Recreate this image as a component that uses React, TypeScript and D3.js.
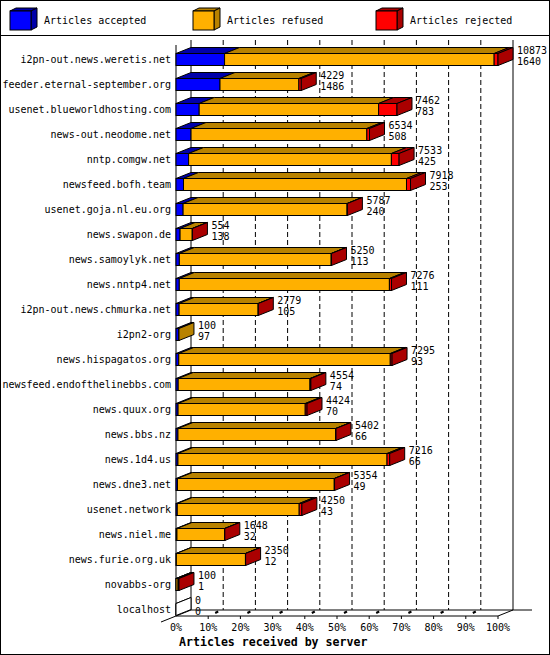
import React from 'react';
import * as d3 from 'd3';

const servers = [
  'i2pn-out.news.weretis.net',
  'feeder.eternal-september.org',
  'usenet.blueworldhosting.com',
  'news-out.neodome.net',
  'nntp.comgw.net',
  'newsfeed.bofh.team',
  'usenet.goja.nl.eu.org',
  'news.swapon.de',
  'news.samoylyk.net',
  'news.nntp4.net',
  'i2pn-out.news.chmurka.net',
  'i2pn2-org',
  'news.hispagatos.org',
  'newsfeed.endofthelinebbs.com',
  'news.quux.org',
  'news.bbs.nz',
  'news.1d4.us',
  'news.dne3.net',
  'usenet.network',
  'news.niel.me',
  'news.furie.org.uk',
  'novabbs-org',
  'localhost',
];

// totals shown as the upper label, accepted as the lower one
const totals = [10873, 4229, 7462, 6534, 7533, 7918, 5787, 554, 5250, 7276, 2779, 100, 7295, 4554, 4424, 5402, 7216, 5354, 4250, 1648, 2350, 100, 0];
const accepted = [1640, 1486, 783, 508, 425, 253, 240, 138, 113, 111, 105, 97, 93, 74, 70, 66, 66, 49, 43, 32, 12, 1, 0];
const refused = [9103, 2663, 6059, 5936, 6848, 7530, 5537, 411, 5127, 7095, 2669, 3, 7142, 4450, 4294, 5326, 7060, 5295, 4117, 1611, 2333, 69, 0];
const rejected = [130, 80, 620, 90, 260, 135, 10, 5, 10, 70, 5, 0, 60, 30, 60, 10, 90, 10, 90, 5, 5, 30, 0];

const seriesNames = ['Articles accepted', 'Articles refused', 'Articles rejected'];
const tickPercents = [0, 10, 20, 30, 40, 50, 60, 70, 80, 90, 100];
const axisTitle = 'Articles received by server';

const fronts = ['#0000ff', '#ffb000', '#ff0000'];
const darks = ['#0000aa', '#b88200', '#aa0000'];

const W = 550;
const H = 655;
const DX = 15;
const DY = -6;
const FONT = '"DejaVu Sans Mono", monospace';

const poly = (pts: [number, number][]) => pts.map(p => p.join(',')).join(' ');

const App: React.FC = () => {
  const x = d3.scaleLinear().domain([0, d3.max(totals) as number]).range([176, 498]);
  const pct = d3.scaleLinear().domain([0, 100]).range([176, 498]);
  const y = d3.scaleBand<string>().domain(servers).range([47, 622]);
  const barH = 12;

  const series = [accepted, refused, rejected];
  const legendX = [10, 193, 376];

  return (
    <svg
      width={W}
      height={H}
      style={{ position: 'absolute', left: 0, top: 0, background: '#fff' }}
      fontFamily={FONT}
    >
      <rect x={0.5} y={0.5} width={W - 1} height={H - 1} fill="#fff" stroke="#000" />

      {/* legend */}
      <line x1={0} x2={W} y1={35.5} y2={35.5} stroke="#000" />
      {seriesNames.map((name, k) => {
        const lx = legendX[k];
        const x0 = lx, x1 = lx + 21, y0 = 11, y1 = 30;
        return (
          <g key={name} stroke="#000" strokeWidth={1}>
            <polygon points={poly([[x0, y0], [x1, y0], [x1 + 6, y0 - 3], [x0 + 6, y0 - 3]])} fill={darks[k]} />
            <polygon points={poly([[x1, y0], [x1 + 6, y0 - 3], [x1 + 6, y1 - 3], [x1, y1]])} fill={darks[k]} />
            <rect x={x0} y={y0} width={x1 - x0} height={y1 - y0} fill={fronts[k]} />
            <text x={lx + 34} y={20.5} fontSize={10} dominantBaseline="central" stroke="none" fill="#000">{name}</text>
          </g>
        );
      })}

      {/* back wall grid */}
      {tickPercents.slice(1, -1).map(t => (
        <line key={`g${t}`} x1={pct(t) + DX} x2={pct(t) + DX} y1={40} y2={610} stroke="#000" strokeDasharray="5,3" />
      ))}
      <line x1={pct(0) + DX} x2={pct(0) + DX} y1={40} y2={610} stroke="#000" />
      <line x1={pct(100) + DX} x2={pct(100) + DX} y1={40} y2={610} stroke="#000" />
      <line x1={pct(0)} x2={pct(0)} y1={45} y2={616} stroke="#000" />

      {/* floor edges */}
      <line x1={pct(0) + DX} x2={532} y1={610} y2={610} stroke="#000" />
      <line x1={pct(0)} x2={pct(100)} y1={616} y2={616} stroke="#000" />
      <line x1={pct(100)} x2={pct(100) + DX} y1={616} y2={610} stroke="#000" />
      <line x1={pct(0) - DX} x2={pct(0) + DX} y1={622} y2={610} stroke="#000" />

      {/* ticks */}
      {tickPercents.slice(1).map(t => (
        <g key={`t${t}`} stroke="#000">
          <line x1={pct(t)} x2={pct(t)} y1={616} y2={619} />
          {t < 100 && <line x1={pct(t) + 7} x2={pct(t) + 10} y1={613} y2={611.5} strokeWidth={2} />}
        </g>
      ))}
      {tickPercents.map(t => (
        <text key={`l${t}`} x={pct(t)} y={627} fontSize={10} textAnchor="middle" dominantBaseline="central">
          {`${t}%`}
        </text>
      ))}
      <text x={179} y={642} fontSize={11.6} fontWeight="bold" dominantBaseline="central">{axisTitle}</text>

      {/* bars */}
      {servers.map((s, i) => {
        const top = (y(s) as number) + (y.bandwidth() - barH) / 2;
        const bot = top + barH;
        const c = top + barH / 2;
        let acc = 0;
        let lastK = -1;
        const segs = series.map((vals, k) => {
          const v0 = acc;
          acc += vals[i];
          if (vals[i] > 0) lastK = k;
          return { k, x0: x(v0), x1: x(acc), v: vals[i] };
        });
        const xe = x(acc);
        return (
          <g key={s} stroke="#000" strokeWidth={1}>
            {segs.filter(g => g.v > 0).map(g => (
              <g key={g.k}>
                <polygon
                  points={poly([[g.x0, top], [g.x1, top], [g.x1 + DX, top + DY], [g.x0 + DX, top + DY]])}
                  fill={darks[g.k]}
                />
                <rect x={g.x0} y={top} width={g.x1 - g.x0} height={barH} fill={fronts[g.k]} />
              </g>
            ))}
            {lastK < 0 && (
              <>
                <line x1={xe} x2={xe} y1={top} y2={bot} />
                <line x1={xe} x2={xe + DX} y1={top} y2={top + DY} />
              </>
            )}
            <polygon
              points={poly([[xe, top], [xe + DX, top + DY], [xe + DX, bot + DY], [xe, bot]])}
              fill={lastK < 0 ? '#fff' : darks[lastK]}
            />
            <text x={xe + DX + 4} y={c - 9.5} fontSize={10} dominantBaseline="central" stroke="none" fill="#000">
              {totals[i]}
            </text>
            <text x={xe + DX + 4} y={c + 1.5} fontSize={10} dominantBaseline="central" stroke="none" fill="#000">
              {accepted[i]}
            </text>
            <text x={171} y={c} fontSize={10} textAnchor="end" dominantBaseline="central" stroke="none" fill="#000">
              {s}
            </text>
          </g>
        );
      })}
    </svg>
  );
};

export default App;
